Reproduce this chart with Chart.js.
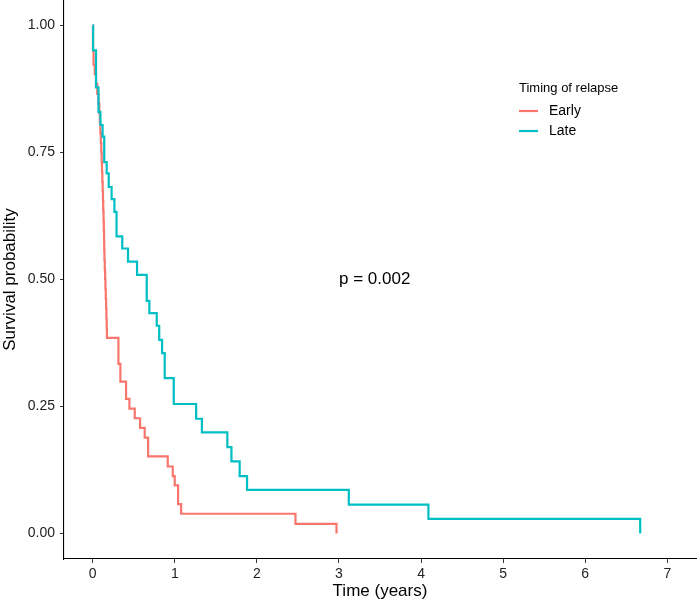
<!DOCTYPE html>
<html>
<head>
<meta charset="utf-8">
<script src="https://cdn.jsdelivr.net/npm/chart.js@4"></script>
<style>
  html, body { margin: 0; padding: 0; background: #fff; }
  #wrap { width: 700px; height: 600px; }
</style>
</head>
<body>
<div id="wrap"><canvas id="c" width="700" height="600"></canvas></div>
<script>
// ---- data ----
const earlyTime = [0, 0.003, 0.01, 0.025, 0.04, 0.055, 0.07, 0.08, 0.087, 0.093, 0.099, 0.104, 0.109, 0.113, 0.117, 0.121, 0.125, 0.128, 0.132, 0.135, 0.138, 0.14, 0.143, 0.147, 0.151, 0.155, 0.159, 0.163, 0.167, 0.17, 0.173, 0.313, 0.337, 0.406, 0.447, 0.512, 0.577, 0.633, 0.675, 0.914, 0.975, 0.999, 1.04, 1.077, 2.47, 2.97];
const earlySurv = [1, 0.951, 0.923, 0.904, 0.885, 0.865, 0.846, 0.827, 0.808, 0.788, 0.769, 0.75, 0.731, 0.712, 0.692, 0.673, 0.654, 0.635, 0.615, 0.596, 0.577, 0.558, 0.538, 0.519, 0.5, 0.481, 0.462, 0.442, 0.423, 0.404, 0.385, 0.334, 0.299, 0.265, 0.246, 0.227, 0.208, 0.189, 0.152, 0.132, 0.113, 0.095, 0.058, 0.039, 0.019, 0];

const lateTime = [0, 0.005, 0.04, 0.07, 0.094, 0.12, 0.14, 0.17, 0.195, 0.23, 0.264, 0.29, 0.36, 0.43, 0.54, 0.658, 0.69, 0.78, 0.81, 0.845, 0.877, 0.987, 1.26, 1.33, 1.64, 1.69, 1.79, 1.88, 3.12, 4.09, 6.67];
const lateSurv = [1, 0.951, 0.878, 0.830, 0.804, 0.781, 0.731, 0.709, 0.682, 0.658, 0.633, 0.585, 0.561, 0.535, 0.509, 0.458, 0.434, 0.409, 0.381, 0.355, 0.306, 0.255, 0.226, 0.199, 0.170, 0.142, 0.113, 0.086, 0.057, 0.029, 0];

const groupLabels = ["Early", "Late"];
const legendTitle = "Timing of relapse";
const xTicks = [0, 1, 2, 3, 4, 5, 6, 7];
const yTicks = [0, 0.25, 0.5, 0.75, 1];
const pValueText = "p = 0.002";
const pValueAt = { x: 3.0, y: 0.5 };

const COLORS = ["#F8766D", "#00BFC4"];
const FONT = "'Liberation Sans', Arial, Helvetica, sans-serif";

function toPoints(t, s) { return t.map((v, i) => ({ x: v, y: s[i] })); }

const overlay = {
  id: 'overlay',
  afterDatasetsDraw(chart) {
    const ctx = chart.ctx;
    const xs = chart.scales.x, ys = chart.scales.y;
    ctx.save();
    // p-value
    ctx.fillStyle = '#000';
    ctx.font = '17px ' + FONT;
    ctx.textAlign = 'left';
    ctx.textBaseline = 'middle';
    ctx.fillText(pValueText, xs.getPixelForValue(pValueAt.x), ys.getPixelForValue(pValueAt.y));
    // legend
    const lx = 519, ly = 88;
    ctx.font = '13px ' + FONT;
    ctx.fillText(legendTitle, lx, ly);
    ctx.font = '14px ' + FONT;
    chart.data.datasets.forEach((ds, i) => {
      const y = ly + 23 + i * 20;
      ctx.strokeStyle = ds.borderColor;
      ctx.lineWidth = 2.2;
      ctx.beginPath();
      ctx.moveTo(lx, y);
      ctx.lineTo(lx + 19, y);
      ctx.stroke();
      ctx.fillStyle = '#000';
      ctx.fillText(ds.label, lx + 30, y);
    });
    ctx.restore();
  }
};

new Chart(document.getElementById('c'), {
  type: 'line',
  data: {
    datasets: [
      { label: groupLabels[0], data: toPoints(earlyTime, earlySurv), borderColor: COLORS[0], backgroundColor: COLORS[0], borderWidth: 2.2, stepped: true, pointRadius: 0, fill: false, order: 1 },
      { label: groupLabels[1], data: toPoints(lateTime, lateSurv), borderColor: COLORS[1], backgroundColor: COLORS[1], borderWidth: 2.2, stepped: true, pointRadius: 0, fill: false, order: 0 }
    ]
  },
  options: {
    responsive: false,
    animation: false,
    devicePixelRatio: 1,
    layout: { padding: { top: 0, right: 4, left: 0, bottom: 0 } },
    plugins: { legend: { display: false }, tooltip: { enabled: false } },
    scales: {
      x: {
        type: 'linear',
        min: -0.35, max: 7.35,
        afterBuildTicks: s => { s.ticks = xTicks.map(v => ({ value: v })); },
        afterFit: s => { s.height = 41; s.paddingLeft = 0; s.paddingRight = 0; },
        grid: { display: true, drawOnChartArea: false, drawTicks: true, tickLength: 4, color: '#333', lineWidth: 1 },
        border: { display: true, color: '#000', width: 1.1 },
        ticks: { color: '#222', font: { family: FONT, size: 14 }, padding: 3, maxRotation: 0, autoSkip: false, callback: v => String(v) },
        title: { display: true, text: 'Time (years)', color: '#000', font: { family: FONT, size: 17, lineHeight: 1 }, padding: 0 }
      },
      y: {
        type: 'linear',
        min: -0.05, max: 1.05,
        afterBuildTicks: s => { s.ticks = yTicks.map(v => ({ value: v })); },
        afterFit: s => { s.width = 64; s.paddingTop = 0; s.paddingBottom = 0; },
        grid: { display: true, drawOnChartArea: false, drawTicks: true, tickLength: 4, color: '#333', lineWidth: 1 },
        border: { display: true, color: '#000', width: 1.1 },
        ticks: { color: '#222', font: { family: FONT, size: 14 }, padding: 5, autoSkip: false, callback: v => Number(v).toFixed(2) },
        title: { display: true, text: 'Survival probability', color: '#000', font: { family: FONT, size: 17, lineHeight: 1 }, padding: { top: 2, bottom: 0 } }
      }
    }
  },
  plugins: [overlay]
});
</script>
</body>
</html>
